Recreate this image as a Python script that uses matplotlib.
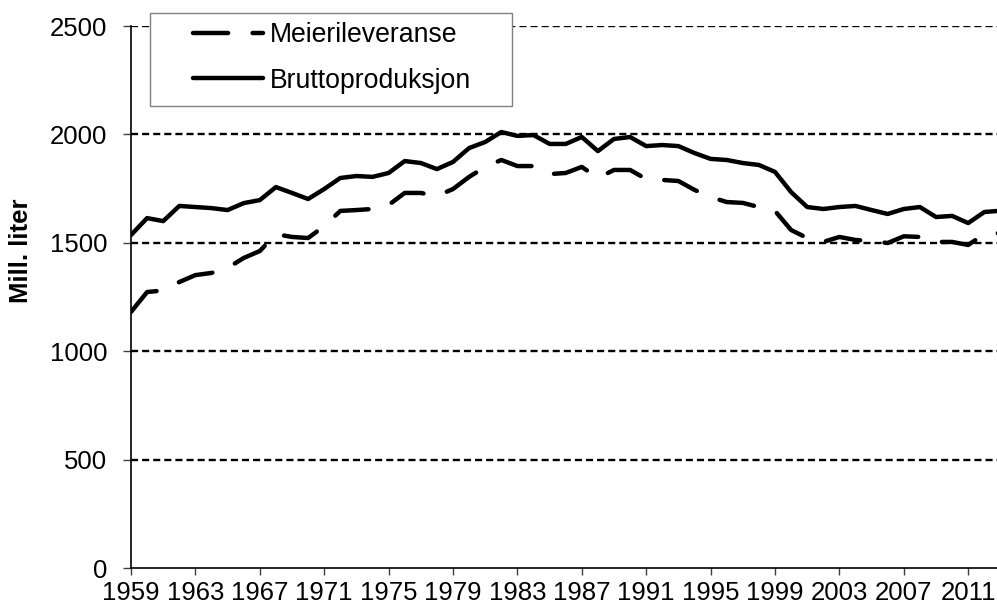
import matplotlib
matplotlib.use('Agg')
from matplotlib import pyplot as plt
from matplotlib.patches import Rectangle
import numpy as np

years = list(range(1959, 2014))
meierileveranse = [
    1181, 1273, 1280, 1319, 1351, 1361, 1384, 1430, 1462, 1540,
    1527, 1522, 1577, 1647, 1651, 1656, 1674, 1730, 1730, 1716,
    1748, 1804, 1850, 1882, 1854, 1854, 1817, 1822, 1850, 1799,
    1836, 1836, 1794, 1790, 1785, 1744, 1711, 1688, 1684, 1665,
    1647, 1559, 1522, 1504, 1527, 1513, 1508, 1499, 1530, 1527,
    1504, 1504, 1490, 1540, 1545,
]
bruttoproduksjon = [
    1536, 1614, 1600, 1670, 1665, 1660, 1651, 1683, 1697, 1757,
    1730, 1702, 1748, 1799, 1808, 1804, 1822, 1877, 1868, 1840,
    1873, 1937, 1965, 2011, 1993, 1997, 1956, 1956, 1988, 1923,
    1979, 1988, 1946, 1951, 1946, 1914, 1887, 1882, 1868, 1859,
    1827, 1734, 1665, 1656, 1665, 1670, 1651, 1633, 1656, 1665,
    1619, 1624, 1591, 1642, 1648,
]
xticks = list(range(1959, 2012, 4))
yticks = [0, 500, 1000, 1500, 2000, 2500]

plt.rcParams['font.family'] = ['Liberation Sans', 'DejaVu Sans']
fs = 18.5

W, H = 997, 605
fig = plt.figure(figsize=(W / 100, H / 100), dpi=100)
ax = fig.add_axes([131 / W, 37 / H, 866 / W, 542 / H])

ax.plot(years, meierileveranse, color='black', lw=3.2, dashes=(7.9, 5.5),
        dash_capstyle='round', solid_joinstyle='round', label='Meierileveranse', zorder=3)
ax.plot(years, bruttoproduksjon, color='black', lw=3.2, solid_capstyle='round',
        solid_joinstyle='round', label='Bruttoproduksjon', zorder=3)

ax.set_xlim(1959, 1959 + 866 / 16.1)
ax.set_ylim(0, 2500)
ax.set_xticks(xticks)
ax.set_yticks(yticks)
ax.tick_params(axis='y', length=6, width=1, pad=11, labelsize=fs, color='#404040')
ax.tick_params(axis='x', length=5, width=1, pad=4, labelsize=fs, color='#404040')

for v in yticks[1:]:
    ax.axhline(v, color='black', lw=1.7, dashes=(3.0, 1.7), zorder=1)

for s in ['top', 'right']:
    ax.spines[s].set_visible(False)
for s in ['left', 'bottom']:
    ax.spines[s].set_linewidth(1.2)
    ax.spines[s].set_zorder(4)

ax.set_ylabel('Mill. liter', fontsize=fs, fontweight='bold')
ax.yaxis.set_label_coords((33 - 131) / 866, (568 - 251) / 542)

# legend box (Excel style, wide padding)
box = Rectangle((150 / W, 1 - 106 / H), 362 / W, 93 / H, transform=fig.transFigure,
                facecolor='white', edgecolor='#808080', lw=1, zorder=5)
fig.patches.append(box)
leg = fig.legend(loc='center left', bbox_to_anchor=(193 / W, 1 - 58 / H),
                 bbox_transform=fig.transFigure, frameon=False, fontsize=19.2,
                 handlelength=2.62, handletextpad=0.26, labelspacing=0.72,
                 borderpad=0, borderaxespad=0)
leg.set_zorder(6)

fig.savefig('out.png', dpi=100)
